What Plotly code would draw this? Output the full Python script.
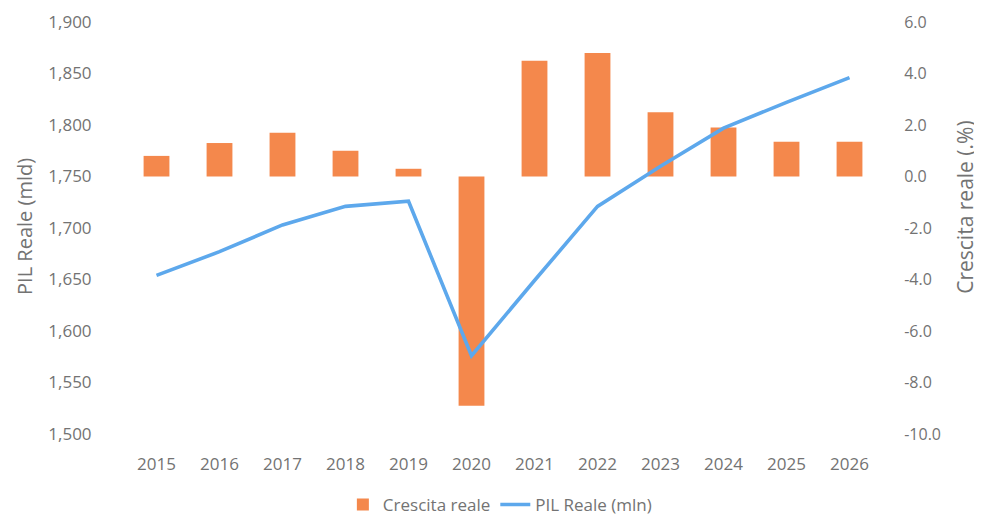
import plotly.graph_objects as go

years = ["2015", "2016", "2017", "2018", "2019", "2020", "2021", "2022", "2023", "2024", "2025", "2026"]
crescita_reale = [0.8, 1.3, 1.7, 1.0, 0.3, -8.9, 4.5, 4.8, 2.5, 1.9, 1.35, 1.35]
pil_reale = [1654, 1677, 1703, 1721, 1726, 1576, 1649, 1721, 1760, 1797, 1822, 1846]

left_ticks = [1500, 1550, 1600, 1650, 1700, 1750, 1800, 1850, 1900]
left_labels = ["1,500", "1,550", "1,600", "1,650", "1,700", "1,750", "1,800", "1,850", "1,900"]
right_ticks = [-10, -8, -6, -4, -2, 0, 2, 4, 6]
right_labels = ["-10.0", "-8.0", "-6.0", "-4.0", "-2.0", "0.0", "2.0", "4.0", "6.0"]

orange = "#F4884C"
blue = "#5DA8EC"
gray = "#737373"
font_family = "Open Sans, Liberation Sans, sans-serif"

W, H = 974, 515

fig = go.Figure()
# bars on the right-hand axis (y), line on the left-hand axis (y2, drawn on top)
fig.add_trace(go.Bar(x=years, y=crescita_reale, name="Crescita reale",
                     marker=dict(color=orange, line=dict(width=0)), yaxis="y", width=0.41))
fig.add_trace(go.Scatter(x=years, y=pil_reale, name="PIL Reale (mln)", mode="lines",
                         line=dict(color=blue, width=3.6), yaxis="y2"))

fig.update_layout(
    width=W, height=H,
    margin=dict(l=117, r=101, t=14, b=89, autoexpand=False),
    plot_bgcolor="white", paper_bgcolor="white",
    font=dict(family=font_family, size=16, color=gray),
    showlegend=True,
    legend=dict(orientation="h", x=0.505, xanchor="center", xref="container",
                y=0, yanchor="bottom", yref="container",
                font=dict(size=17, color=gray), traceorder="normal"),
    xaxis=dict(showgrid=False, showline=False, zeroline=False, ticks="outside",
               ticklen=15, tickcolor="rgba(0,0,0,0)", tickfont=dict(size=17, color=gray),
               automargin=False),
    yaxis=dict(range=[-10, 6], tickvals=right_ticks, ticktext=right_labels,
               side="right", showgrid=False, zeroline=False, showline=False,
               automargin=False,
               ticks="outside", ticklen=19, tickcolor="rgba(0,0,0,0)",
               tickfont=dict(size=16, color=gray)),
    yaxis2=dict(range=[1500, 1900], tickvals=left_ticks, ticktext=left_labels,
                overlaying="y", side="left",
                showgrid=False, zeroline=False, showline=False, automargin=False,
                ticks="outside", ticklen=29, tickcolor="rgba(0,0,0,0)",
                tickfont=dict(size=17, color=gray)),
    annotations=[
        dict(text="PIL Reale (mld)", textangle=-90, xref="paper", yref="paper",
             x=-0.1323, y=0.505, xanchor="center", yanchor="middle", showarrow=False,
             font=dict(size=20, color=gray)),
        dict(text="Crescita reale (.%)", textangle=-90, xref="paper", yref="paper",
             x=(957 - 117) / 756, y=0.549, xanchor="center", yanchor="middle", showarrow=False,
             font=dict(size=21, color=gray)),
    ],
)

fig.write_html("out.html")
